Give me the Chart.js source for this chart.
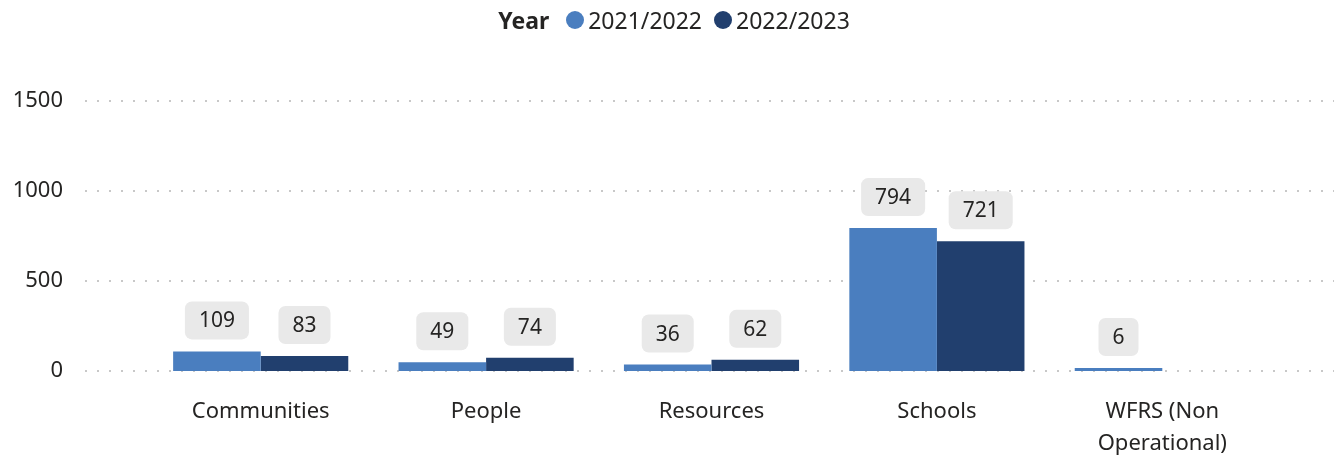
<!DOCTYPE html>
<html>
<head>
<meta charset="utf-8">
<script src="https://cdn.jsdelivr.net/npm/chart.js@4/dist/chart.umd.min.js"></script>
<style>
  html, body { margin: 0; padding: 0; background: #fff; }
  #wrap { position: relative; width: 1334px; height: 456px; }
  #legend {
    position: absolute; top: 4px; left: 13px; width: 100%;
    display: flex; justify-content: center; align-items: center;
    font: 23px 'Noto Sans', sans-serif; color: #252423; line-height: 32px;
  }
  #legend b { margin-right: 17px; }
  #legend .dot { width: 18px; height: 18px; border-radius: 50%; margin-right: 4px; }
  #legend .item { display: flex; align-items: center; margin-right: 12px; }
</style>
</head>
<body>
<div id="wrap">
  <canvas id="incidentChart" width="1334" height="456"></canvas>
  <div id="legend"></div>
</div>
<script>
const categories = ['Communities', 'People', 'Resources', 'Schools', ['WFRS (Non', 'Operational)']];
const years = ['2021/2022', '2022/2023'];
const fy2122 = [109, 49, 36, 794, 6];
const fy2223 = [83, 74, 62, 721, null];
const yTicks = [0, 500, 1000, 1500];

const colors = ['#4a7ebf', '#213f6e'];
const textColor = '#252423';
const fontFamily = "'Noto Sans', sans-serif";

// dotted horizontal guides that run past the plot area, like the original report
const dottedGrid = {
  id: 'dottedGrid',
  beforeDatasetsDraw(chart) {
    const ctx = chart.ctx, y = chart.scales.y;
    ctx.save();
    ctx.strokeStyle = '#c8c8c8';
    ctx.lineWidth = 2;
    ctx.setLineDash([2, 10]);
    y.ticks.forEach(t => {
      const py = Math.round(y.getPixelForValue(t.value));
      ctx.beginPath();
      ctx.moveTo(85, py);
      ctx.lineTo(chart.width, py);
      ctx.stroke();
    });
    ctx.restore();
  }
};

// grey rounded value badges above each bar
const valueBadges = {
  id: 'valueBadges',
  afterDatasetsDraw(chart) {
    const ctx = chart.ctx;
    ctx.save();
    ctx.font = '21px ' + fontFamily;
    ctx.textAlign = 'center';
    ctx.textBaseline = 'middle';
    chart.data.datasets.forEach((ds, i) => {
      chart.getDatasetMeta(i).data.forEach((bar, j) => {
        const v = ds.data[j];
        if (v == null) return;
        const txt = String(v);
        const w = ctx.measureText(txt).width + 28, h = 38;
        const bottom = bar.y - 12;
        ctx.fillStyle = '#e9e9e9';
        ctx.beginPath();
        ctx.roundRect(bar.x - w / 2, bottom - h, w, h, 7);
        ctx.fill();
        ctx.fillStyle = textColor;
        ctx.fillText(txt, bar.x, bottom - h / 2 + 1);
      });
    });
    ctx.restore();
  }
};

const chart = new Chart(document.getElementById('incidentChart'), {
  type: 'bar',
  data: {
    labels: categories,
    datasets: [
      { label: years[0], data: fy2122, backgroundColor: colors[0] },
      { label: years[1], data: fy2223, backgroundColor: colors[1] }
    ]
  },
  options: {
    responsive: false,
    animation: false,
    layout: { padding: { top: 101, right: 59, left: 0, bottom: 0 } },
    datasets: { bar: { barPercentage: 1, categoryPercentage: 0.777, minBarLength: 3 } },
    plugins: { legend: { display: false }, tooltip: { enabled: false } },
    scales: {
      x: {
        grid: { display: false },
        border: { display: false },
        ticks: { color: textColor, font: { family: fontFamily, size: 22, lineHeight: 1.45 }, padding: 17, maxRotation: 0, autoSkip: false },
        afterFit(s) { s.height = 85; }
      },
      y: {
        min: 0,
        max: yTicks[yTicks.length - 1],
        grid: { display: false },
        border: { display: false },
        ticks: { stepSize: 500, color: textColor, font: { family: fontFamily, size: 22 }, padding: 77, callback: v => String(v) },
        afterBuildTicks(s) { s.ticks = yTicks.map(v => ({ value: v })); },
        afterFit(s) {
          s.width = 148;
          // keep the tick padding from pushing the plot area up
          s.paddingTop = 0;
          s.paddingBottom = 0;
        }
      }
    }
  },
  plugins: [dottedGrid, valueBadges]
});

// legend with the "Year" heading inline
const legend = document.getElementById('legend');
legend.innerHTML = '<b>Year</b>' + chart.data.datasets.map(ds =>
  '<span class="item"><span class="dot" style="background:' + ds.backgroundColor + '"></span>' + ds.label + '</span>'
).join('');
</script>
</body>
</html>
